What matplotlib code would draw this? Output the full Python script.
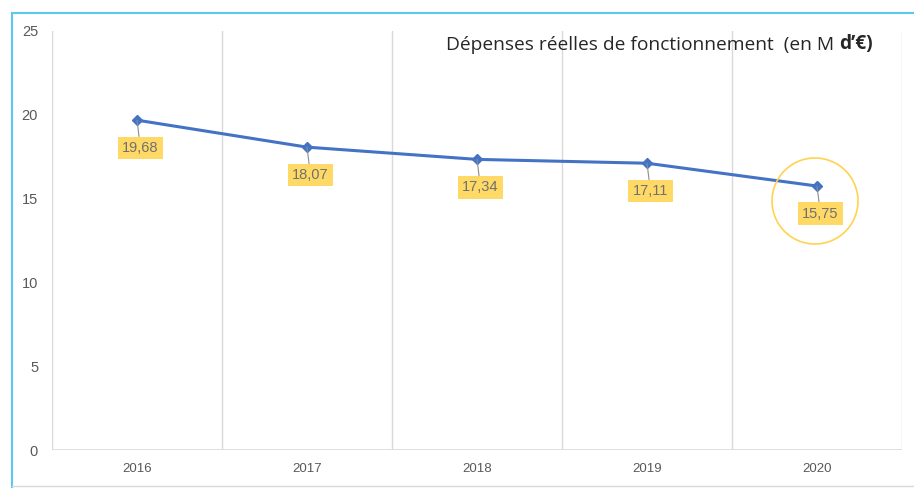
import matplotlib
matplotlib.use("Agg")
import matplotlib.pyplot as plt
from matplotlib.patches import Ellipse

years = ["2016", "2017", "2018", "2019", "2020"]
values = [19.68, 18.07, 17.34, 17.11, 15.75]
labels = ["19,68", "18,07", "17,34", "17,11", "15,75"]
yticks = [0, 5, 10, 15, 20, 25]

W, H = 914, 488
fig = plt.figure(figsize=(W / 100, H / 100), dpi=100)
ax = fig.add_axes([52 / W, 1 - 450 / H, (902 - 52) / W, (450 - 31) / H])

# outer frame (light blue top/left, grey bottom)
fig.add_artist(plt.Line2D([12 / W, 12 / W], [0, 1 - 13 / H], color="#5BC8F0", lw=1.5, transform=fig.transFigure))
fig.add_artist(plt.Line2D([12 / W, 1], [1 - 13 / H, 1 - 13 / H], color="#5BC8F0", lw=1.5, transform=fig.transFigure))
fig.add_artist(plt.Line2D([12 / W, 1], [1 - 486 / H, 1 - 486 / H], color="#D9D9D9", lw=1, transform=fig.transFigure))

x = list(range(1, len(years) + 1))
ax.set_xlim(0.5, len(years) + 0.5)
ax.set_ylim(0, 25)

for b in [i + 0.5 for i in range(0, len(years) + 1)]:
    ax.axvline(b, color="#D9D9D9", lw=1, zorder=0)
ax.axhline(0, color="#D9D9D9", lw=1.2, zorder=0)

for s in ax.spines.values():
    s.set_visible(False)

ax.plot(x, values, color="#4472C4", lw=2.2, marker="D", ms=5, zorder=3)

ax.set_yticks(yticks)
ax.set_yticklabels([str(t) for t in yticks], fontsize=10.5, color="#595959", family="Liberation Sans")
ax.set_xticks(x)
ax.set_xticklabels(years, fontsize=9.5, color="#595959", family="Liberation Sans")
ax.tick_params(axis="both", length=0)
ax.tick_params(axis="y", pad=10)
ax.tick_params(axis="x", pad=9)

for xi, v, lab in zip(x, values, labels):
    ax.annotate(lab, xy=(xi, v), xytext=(2.5, -20), textcoords="offset points",
                ha="center", va="center", fontsize=10.5, color="#707070", family="Liberation Sans",
                bbox=dict(boxstyle="square,pad=0.3", fc="#FFD966", ec="none"),
                arrowprops=dict(arrowstyle="-", color="#8C8C8C", lw=0.8, shrinkA=0, shrinkB=0),
                zorder=4)

# highlight circle around last label
circ_x, circ_y = 815, 201
r = 43
fig.add_artist(Ellipse((circ_x / W, 1 - circ_y / H), 2 * r / W, 2 * r / H,
                       transform=fig.transFigure, fill=False, ec="#FFD34F", lw=1.2))

t1 = fig.text(446 / W, 1 - 45 / H, "Dépenses réelles de fonctionnement  (en M ", fontsize=13.8,
              family="Open Sans", color="#262626", va="center", ha="left")
fig.canvas.draw()
ax.annotate("d’€)", xy=(1, 0), xycoords=t1, va="bottom", ha="left", fontsize=13.8,
            family="Open Sans", fontweight="bold", color="#262626")

fig.savefig("out.png", dpi=100)
